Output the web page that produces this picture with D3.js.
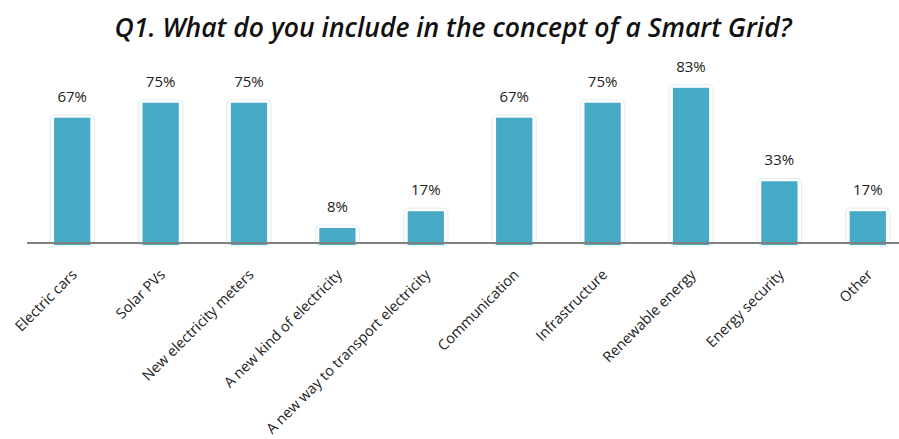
<!DOCTYPE html>
<html>
<head>
<meta charset="utf-8">
<script src="https://cdn.jsdelivr.net/npm/d3@7"></script>
<style>
  body { margin: 0; background: #fff; }
  text { font-family: "Open Sans", "Noto Sans", sans-serif; }
</style>
</head>
<body>
<svg id="chart" width="899" height="439"></svg>
<script>
const categories = ["Electric cars", "Solar PVs", "New electricity meters", "A new kind of electricity",
  "A new way to transport electricity", "Communication", "Infrastructure", "Renewable energy",
  "Energy security", "Other"];
const values = [67, 75, 75, 8, 17, 67, 75, 83, 33, 17];
const title = "Q1. What do you include in the concept of a Smart Grid?";

const svg = d3.select("#chart");
const baseY = 243;

const x = d3.scaleBand()
  .domain(categories)
  .range([28, 912])
  .paddingInner(0.59)
  .paddingOuter(0.295);

const y = d3.scaleLinear()
  .domain([0, 100])
  .range([baseY, 56]);

// title
svg.append("text")
  .attr("x", 453)
  .attr("y", 37)
  .attr("text-anchor", "middle")
  .attr("font-size", 26.5)
  .attr("font-weight", 600)
  .attr("font-style", "italic")
  .attr("fill", "#111")
  .text(title);

// bars: soft halo then fill
const bars = svg.append("g");
bars.selectAll("rect.halo")
  .data(values)
  .enter().append("rect")
  .attr("class", "halo")
  .attr("x", (d, i) => x(categories[i]) - 4)
  .attr("y", d => y(d) - 3)
  .attr("width", x.bandwidth() + 8)
  .attr("height", d => baseY - y(d) + 6)
  .attr("rx", 5)
  .attr("fill", "#fff")
  .attr("stroke", "#e3f1f5")
  .attr("stroke-width", 1.2);

bars.selectAll("rect.bar")
  .data(values)
  .enter().append("rect")
  .attr("class", "bar")
  .attr("x", (d, i) => x(categories[i]))
  .attr("y", d => y(d))
  .attr("width", x.bandwidth())
  .attr("height", d => baseY - y(d) + 2)
  .attr("fill", "#46a9c5");

// value labels
svg.append("g").selectAll("text")
  .data(values)
  .enter().append("text")
  .attr("x", (d, i) => x(categories[i]) + x.bandwidth() / 2)
  .attr("y", d => y(d) - 16)
  .attr("text-anchor", "middle")
  .attr("font-size", 15)
  .attr("fill", "#222")
  .text(d => d + "%");

// baseline
svg.append("line")
  .attr("x1", 27).attr("x2", 899)
  .attr("y1", baseY).attr("y2", baseY)
  .attr("stroke", "#808080")
  .attr("stroke-width", 2);

// category labels
const xAxis = svg.append("g")
  .attr("transform", `translate(0,${baseY})`)
  .call(d3.axisBottom(x).tickSize(0).tickPadding(0));
xAxis.select(".domain").remove();
xAxis.selectAll("text")
  .attr("font-family", "\"Open Sans\", sans-serif")
  .attr("font-size", 14.5)
  .attr("fill", "#222")
  .attr("text-anchor", "end")
  .attr("dy", "0.35em")
  .attr("transform", "translate(2,29) rotate(-45)");
</script>
</body>
</html>
